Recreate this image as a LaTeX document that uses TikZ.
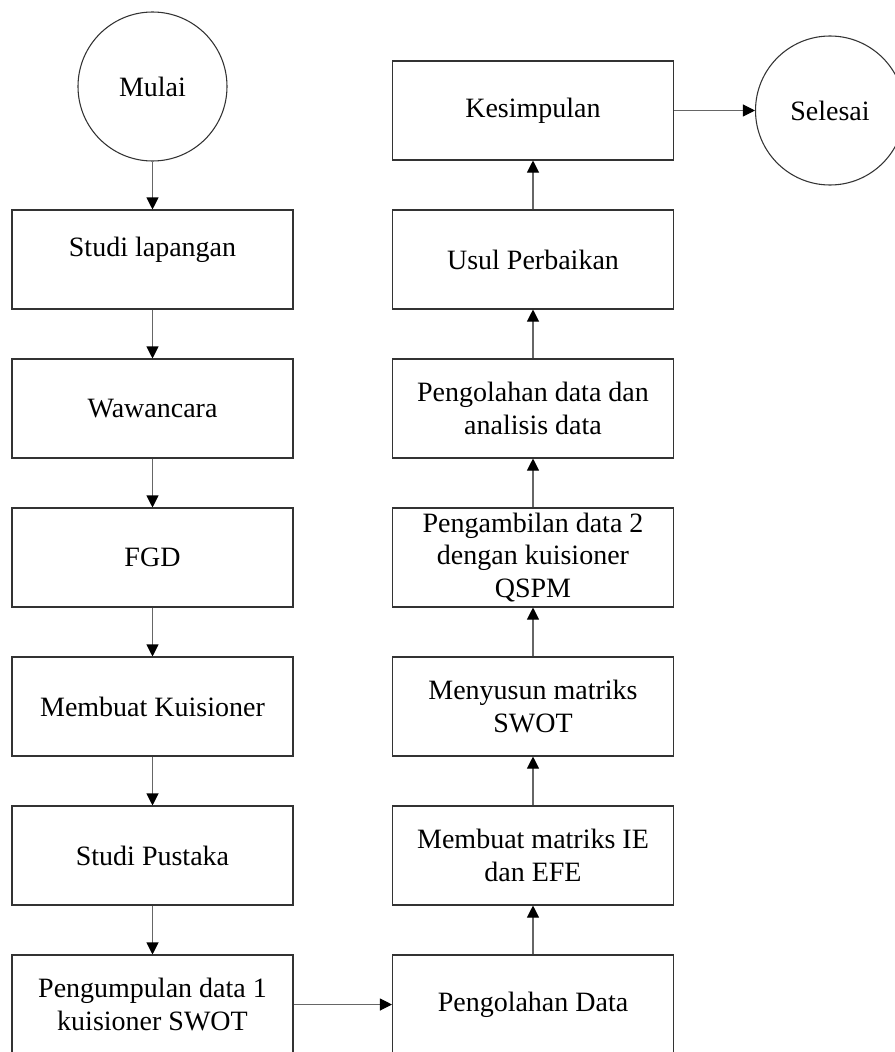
\documentclass[tikz,border=0pt]{standalone}
\usepackage{fontspec}
\setmainfont{Liberation Serif}
\usetikzlibrary{arrows.meta}
\begin{document}
\begin{tikzpicture}[x=0.75pt,y=0.75pt,font=\fontsize{21}{24.5}\selectfont,
kbox/.style={draw=black!80,line width=0.8pt,rectangle,align=center,minimum width=210.75pt,minimum height=74.25pt,inner sep=2pt},
kcirc/.style={draw=black!80,line width=0.8pt,circle,minimum size=111.75pt,inner sep=0pt},
karrow/.style={draw=black!60,line width=0.8pt,-{Triangle[length=9pt,width=9pt,color=black]}}]
\pgfmathsetmacro{\kystep}{149}
\pgfmathsetmacro{\kxl}{152.5}
\pgfmathsetmacro{\kxr}{533}
\useasboundingbox(0,0)rectangle(895,-1052);
\node[kcirc](mulai)at(\kxl,-86.5){Mulai};
\node[kcirc](selesai)at(830,-110.5){Selesai};
\foreach \ky/\kn/\kt in {1/studi/{Studi lapangan\\[-6pt]~},2/wawan/Wawancara,3/fgd/FGD,4/kuis/Membuat Kuisioner,5/pustaka/Studi Pustaka,6/kumpul/{Pengumpulan data 1\\kuisioner SWOT}}{\node[kbox](\kn)at(\kxl,-110.5-\ky*\kystep){\kt};}
\foreach \ky/\kn/\kt in {0/simpul/Kesimpulan,1/usul/Usul Perbaikan,2/analisis/{Pengolahan data dan\\analisis data},3/ambil/{Pengambilan data 2\\dengan kuisioner\\QSPM},4/swot/{Menyusun matriks\\SWOT},5/ie/{Membuat matriks IE\\dan EFE},6/olah/Pengolahan Data}{\node[kbox](\kn)at(\kxr,-110.5-\ky*\kystep){\kt};}
\foreach \ka/\kb in {mulai/studi,studi/wawan,wawan/fgd,fgd/kuis,kuis/pustaka,pustaka/kumpul,kumpul/olah,olah/ie,ie/swot,swot/ambil,ambil/analisis,analisis/usul,usul/simpul,simpul/selesai}{\draw[karrow](\ka)--(\kb);}
\end{tikzpicture}
\end{document}
